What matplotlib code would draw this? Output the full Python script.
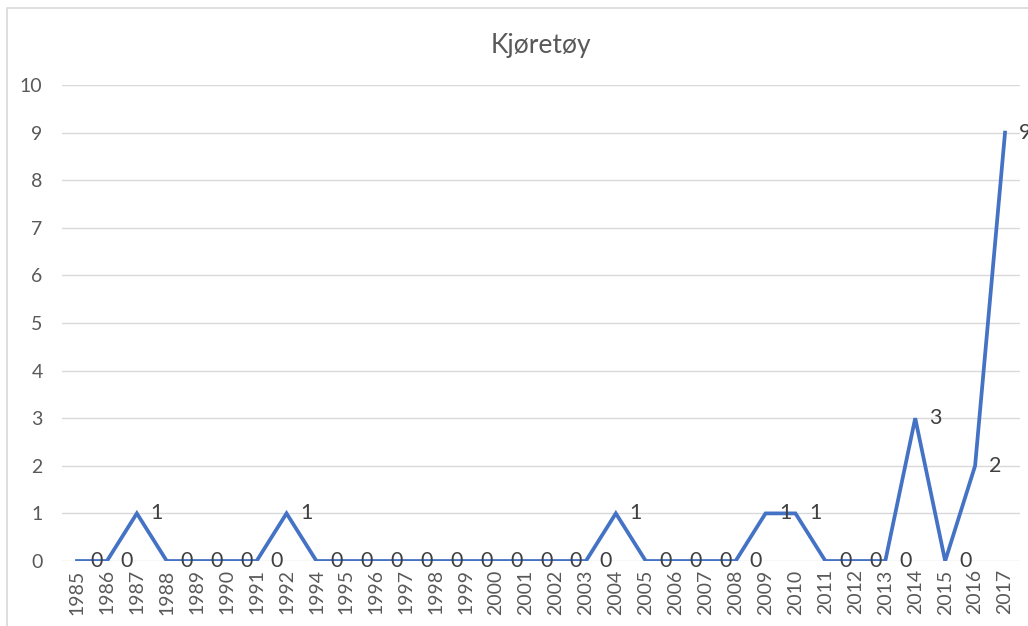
import matplotlib.pyplot as plt
from matplotlib.patches import Rectangle

years = ['1985', '1986', '1987', '1988', '1989', '1990', '1991', '1992',
         '1994', '1995', '1996', '1997', '1998', '1999', '2000', '2001',
         '2002', '2003', '2004', '2005', '2006', '2007', '2008', '2009',
         '2010', '2011', '2012', '2013', '2014', '2015', '2016', '2017']
counts = [0, 0, 1, 0, 0, 0, 0, 1,
          0, 0, 0, 0, 0, 0, 0, 0,
          0, 0, 1, 0, 0, 0, 0, 1,
          1, 0, 0, 0, 3, 0, 2, 9]

plt.rcParams['font.family'] = ['Lato', 'DejaVu Sans']

fig = plt.figure(figsize=(10.28, 6.26), dpi=100)
ax = fig.add_axes([62 / 1028, 65 / 626, 958 / 1028, 476 / 626])

x = list(range(len(years)))
ax.plot(x, counts, color='#4472C4', linewidth=2.7, solid_joinstyle='miter')
for xi, v in zip(x, counts):
    ax.annotate(str(v), (xi, v), xytext=(10, 0), textcoords='offset points',
                ha='left', va='center', fontsize=15.5, color='#404040',
                annotation_clip=False)

ax.set_xlim(-0.5, len(years) - 0.5)
ax.set_ylim(0, 10)
ax.set_yticks(range(0, 11))
ax.set_xticks(x)
ax.set_xticklabels(years, rotation=90)
ax.tick_params(axis='both', length=0, labelsize=14, labelcolor='#595959')
ax.tick_params(axis='y', pad=14)
ax.tick_params(axis='x', pad=6)
ax.grid(axis='y', color='#D9D9D9', linewidth=1)
ax.set_axisbelow(True)
for s in ax.spines.values():
    s.set_visible(False)

fig.text(0.5 * (62 + 1020) / 1028, 1 - 45 / 626, 'Kjøretøy', ha='center',
         va='center', fontsize=19, color='#595959')

fig.patches.append(Rectangle((7 / 1028, -0.1), 1.2, 1 - 8 / 626 + 0.1,
                             transform=fig.transFigure, fill=False,
                             edgecolor='#D9D9D9', linewidth=1.2))

fig.savefig('out.png', dpi=100)
